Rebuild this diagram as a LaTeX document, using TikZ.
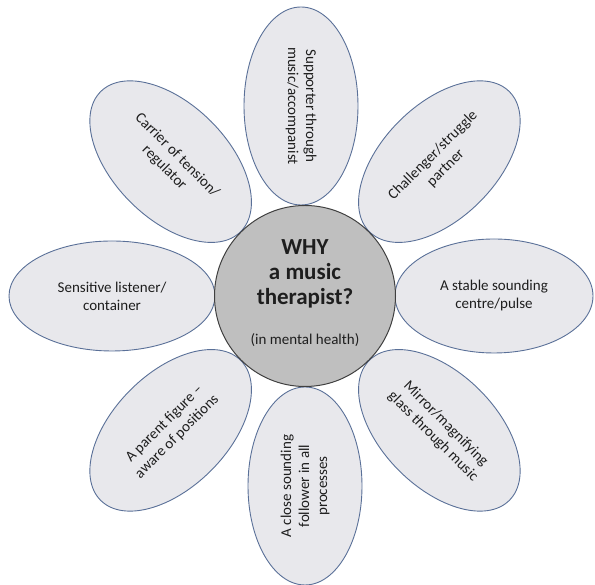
\documentclass[tikz,border=0pt]{standalone}
\usepackage{fontspec}
\setmainfont{Carlito}
\usetikzlibrary{shapes.geometric,calc}
\definecolor{petalfill}{RGB}{232,232,236}
\definecolor{petalline}{RGB}{90,112,152}
\definecolor{hubfill}{RGB}{191,191,191}
\definecolor{hubline}{RGB}{64,64,64}
\definecolor{txt}{RGB}{30,30,30}
\newcommand{\bigtxt}{\fontsize{23}{25}\selectfont\bfseries}
\newcommand{\smalltxt}{\fontsize{15}{25}\selectfont\mdseries}
\begin{document}
\begin{tikzpicture}[x=1pt,y=1pt,
  petal/.style={ellipse, draw=petalline, fill=petalfill, line width=0.9pt,
    minimum width=198pt, minimum height=114pt, inner sep=0pt, align=center,
    text=txt, font=\fontsize{15}{18}\selectfont},
  hub/.style={circle, draw=hubline, fill=hubfill, line width=1pt,
    minimum size=181pt, inner sep=0pt},
  hubtext/.style={align=center, text=txt, inner sep=0pt, font=\bigtxt}]
\useasboundingbox (0,0) rectangle (595,585);
\coordinate (C) at (305,289);
\node[petal, rotate=-90] (p1) at ($(C)+(-4,190)$) {Supporter through\\music/accompanist};
\node[petal, rotate=45]  (p2) at ($(C)+(45:190)$) {Challenger/struggle\\partner};
\node[petal]             (p3) at ($(C)+(0:189)$) {A stable sounding\\centre/pulse};
\node[petal, rotate=-45] (p4) at ($(C)+(-45:190)$) {Mirror/magnifying\\glass through music};
\node[petal, rotate=90]  (p5) at ($(C)+(-90:190)$) {A close sounding\\follower in all\\processes};
\node[petal, rotate=45]  (p6) at ($(C)+(225:190)$) {A parent figure –\\aware of positions};
\node[petal, minimum width=206pt, minimum height=110pt] (p7) at ($(C)+(180:193)$) {Sensitive listener/\\container};
\node[petal, rotate=-45] (p8) at ($(C)+(135:190)$) {Carrier of tension/\\regulator};
\node[hub] (hub) at (C) {};
\node[hubtext] (why) at ($(C)+(0,3)$) {WHY\\a music\\therapist?\\[15pt]\smalltxt (in mental health)};
\end{tikzpicture}
\end{document}
